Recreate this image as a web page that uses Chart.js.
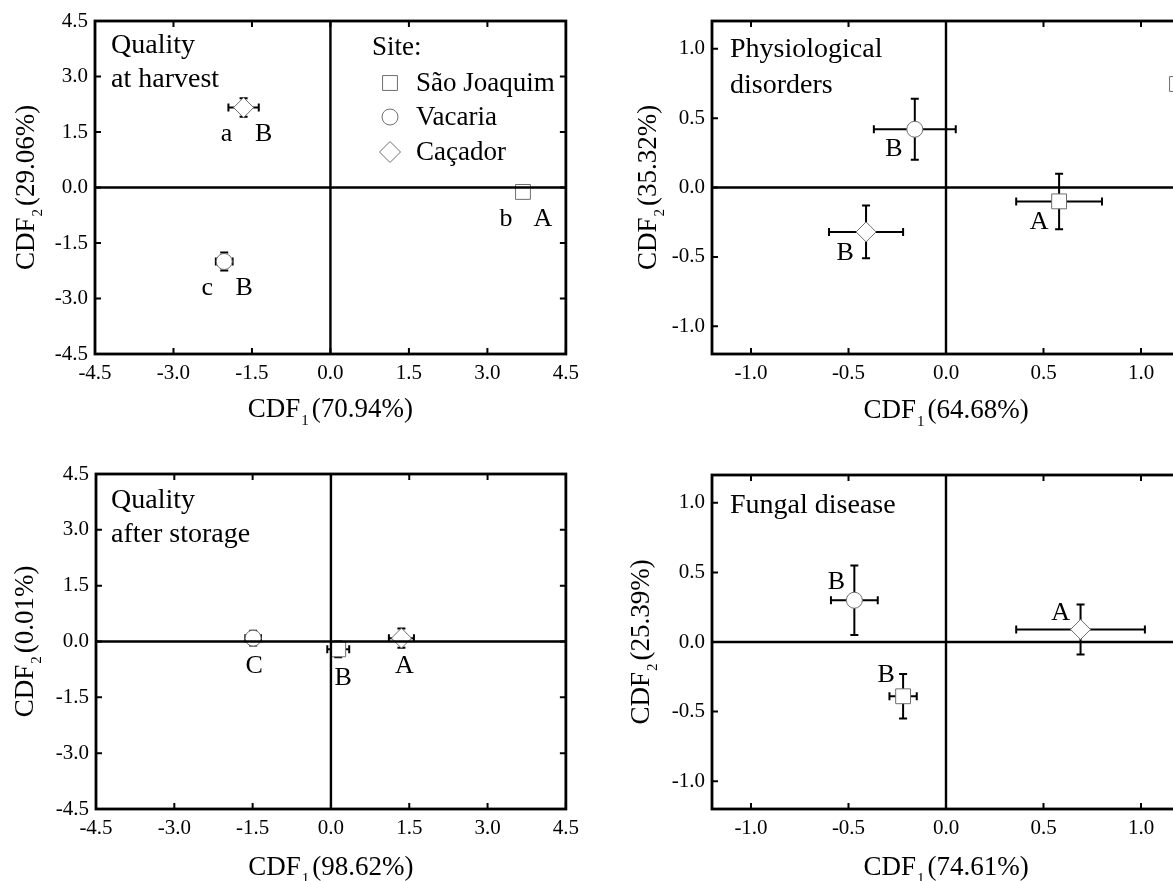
<!DOCTYPE html>
<html>
<head>
<meta charset="utf-8">
<script src="https://cdn.jsdelivr.net/npm/chart.js@4.4.1/dist/chart.umd.min.js"></script>
<style>
  html, body { margin: 0; padding: 0; overflow: hidden; background: #fff; width: 1173px; height: 881px; }
  canvas { position: absolute; }
</style>
</head>
<body>
<canvas id="harvest" width="586" height="440" style="left:0;top:0"></canvas>
<canvas id="disorder" width="600" height="440" style="left:600px;top:0"></canvas>
<canvas id="storage" width="586" height="441" style="left:0;top:440px"></canvas>
<canvas id="fungal" width="600" height="441" style="left:600px;top:440px"></canvas>
<script>
// Sites (same order in every panel)
const sites = ['São Joaquim', 'Vacaria', 'Caçador'];

// Tick values
const wideTicks = [-4.5, -3, -1.5, 0, 1.5, 3, 4.5];
const narrowTicks = [-1, -0.5, 0, 0.5, 1];

// Quality at harvest
const harvestX = [3.68, -2.03, -1.66];
const harvestY = [-0.12, -2.00, 2.16];
const harvestXErr = [0.10, 0.16, 0.29];
const harvestYErr = [0.16, 0.24, 0.25];
const harvestLetters = [['b', 'A'], ['c', 'B'], ['a', 'B']];

// Physiological disorders
const disorderX = [0.58, -0.16, -0.41];
const disorderY = [-0.10, 0.42, -0.32];
const disorderXErr = [0.22, 0.21, 0.19];
const disorderYErr = [0.20, 0.22, 0.19];
const disorderLetters = [['A'], ['B'], ['B']];

// Quality after storage
const storageX = [0.14, -1.49, 1.35];
const storageY = [-0.21, 0.09, 0.09];
const storageXErr = [0.21, 0.15, 0.24];
const storageYErr = [0.21, 0.20, 0.26];
const storageLetters = [['B'], ['C'], ['A']];

// Fungal disease
const fungalX = [-0.22, -0.47, 0.69];
const fungalY = [-0.39, 0.30, 0.09];
const fungalXErr = [0.07, 0.12, 0.33];
const fungalYErr = [0.16, 0.25, 0.18];
const fungalLetters = [['B'], ['B'], ['A']];

// Styles
const FONT = '"Liberation Serif", "Times New Roman", serif';
const MARKER_EDGE = '#6e6e6e';
const pointStyles = ['rect', 'circle', 'rectRot'];
const pointSizes = [10.5, 8, 10];

const panels = {
  harvest: {
    xs: harvestX, ys: harvestY, xErr: harvestXErr, yErr: harvestYErr,
    letters: harvestLetters,
    letterPos: [[[-17, 27], [20, 27]], [[-17, 27], [20, 27]], [[-17, 27], [20, 27]]],
    ticks: wideTicks, lim: 4.5,
    pad: { top: 21, right: 20 }, yWidth: 95, xHeight: 86,
    title: ['Quality', 'at harvest'], titlePos: [16, 32], titleGap: 34,
    xPct: '(70.94%)', yPct: '(29.06%)', xTitleDy: 63, yTitleDx: -61,
    legend: { dx: 277, dy: 34, markerDx: 295, textDx: 321, rowDy: [62, 96, 131] }
  },
  disorder: {
    xs: disorderX, ys: disorderY, xErr: disorderXErr, yErr: disorderYErr,
    letters: disorderLetters,
    letterPos: [[[-20, 21]], [[-21, 20]], [[-21, 21]]],
    ticks: narrowTicks, lim: 1.2,
    pad: { top: 21, right: 20 }, yWidth: 112, xHeight: 86,
    title: ['Physiological', 'disorders'], titlePos: [18, 36], titleGap: 36,
    xPct: '(64.68%)', yPct: '(35.32%)', xTitleDy: 64, yTitleDx: -56,
    stubMarker: [465, 63]
  },
  storage: {
    xs: storageX, ys: storageY, xErr: storageXErr, yErr: storageYErr,
    letters: storageLetters,
    letterPos: [[[5, 29]], [[1, 28]], [[3, 28]]],
    ticks: wideTicks, lim: 4.5,
    pad: { top: 34, right: 20 }, yWidth: 96, xHeight: 72,
    title: ['Quality', 'after storage'], titlePos: [15, 34], titleGap: 34,
    xPct: '(98.62%)', yPct: '(0.01%)', xTitleDy: 66, yTitleDx: -63
  },
  fungal: {
    xs: fungalX, ys: fungalY, xErr: fungalXErr, yErr: fungalYErr,
    letters: fungalLetters,
    letterPos: [[[-17, -21]], [[-18, -18]], [[-20, -16]]],
    ticks: narrowTicks, lim: 1.2,
    pad: { top: 35, right: 20 }, yWidth: 112, xHeight: 72,
    title: ['Fungal disease'], titlePos: [18, 38], titleGap: 36,
    xPct: '(74.61%)', yPct: '(25.39%)', xTitleDy: 66, yTitleDx: -63
  }
};

function drawMarker(ctx, style, r, x, y) {
  ctx.beginPath();
  if (style === 'rect') {
    const h = r * Math.SQRT1_2;
    ctx.rect(x - h, y - h, 2 * h, 2 * h);
  } else if (style === 'circle') {
    ctx.arc(x, y, r, 0, Math.PI * 2);
  } else {
    ctx.moveTo(x - r, y); ctx.lineTo(x, y - r); ctx.lineTo(x + r, y); ctx.lineTo(x, y + r); ctx.closePath();
  }
  ctx.fillStyle = '#fff';
  ctx.fill();
  ctx.lineWidth = 1;
  ctx.strokeStyle = MARKER_EDGE;
  ctx.stroke();
}

// "CDF" + subscript + percentage, centred on (0, 0) along the baseline
function drawCdfTitle(ctx, sub, pct) {
  ctx.textBaseline = 'alphabetic';
  ctx.textAlign = 'left';
  const big = '27px ' + FONT, small = '15px ' + FONT;
  ctx.font = big;
  const w1 = ctx.measureText('CDF').width;
  const w3 = ctx.measureText(pct).width;
  ctx.font = small;
  const w2 = ctx.measureText(sub).width + 4;
  let x = -(w1 + w2 + w3) / 2;
  ctx.fillStyle = '#000';
  ctx.font = big;
  ctx.fillText('CDF', x, 0);
  ctx.font = small;
  ctx.fillText(sub, x + w1 + 1, 8);
  ctx.font = big;
  ctx.fillText(pct, x + w1 + w2, 0);
}

const panelPlugin = {
  id: 'panel',
  beforeDatasetsDraw(chart) {
    const p = panels[chart.canvas.id];
    const ctx = chart.ctx, sx = chart.scales.x, sy = chart.scales.y;
    ctx.save();
    ctx.strokeStyle = '#000';
    ctx.lineWidth = 2;
    const cap = 4;
    p.xs.forEach((v, i) => {
      const px = sx.getPixelForValue(v), py = sy.getPixelForValue(p.ys[i]);
      const x0 = sx.getPixelForValue(v - p.xErr[i]), x1 = sx.getPixelForValue(v + p.xErr[i]);
      const y0 = sy.getPixelForValue(p.ys[i] - p.yErr[i]), y1 = sy.getPixelForValue(p.ys[i] + p.yErr[i]);
      ctx.beginPath();
      ctx.moveTo(x0, py); ctx.lineTo(x1, py);
      ctx.moveTo(x0, py - cap); ctx.lineTo(x0, py + cap);
      ctx.moveTo(x1, py - cap); ctx.lineTo(x1, py + cap);
      ctx.moveTo(px, y0); ctx.lineTo(px, y1);
      ctx.moveTo(px - cap, y0); ctx.lineTo(px + cap, y0);
      ctx.moveTo(px - cap, y1); ctx.lineTo(px + cap, y1);
      ctx.stroke();
    });
    ctx.restore();
  },
  afterDatasetsDraw(chart) {
    const p = panels[chart.canvas.id];
    const ctx = chart.ctx, sx = chart.scales.x, sy = chart.scales.y;
    const a = chart.chartArea;
    ctx.save();

    // zero lines
    ctx.strokeStyle = '#000';
    ctx.lineWidth = 2.4;
    const zx = sx.getPixelForValue(0), zy = sy.getPixelForValue(0);
    ctx.beginPath();
    ctx.moveTo(zx, a.top); ctx.lineTo(zx, a.bottom);
    ctx.moveTo(a.left, zy); ctx.lineTo(a.right, zy);
    ctx.stroke();

    // inward ticks on all four sides
    const tl = 6;
    ctx.lineWidth = 2;
    ctx.beginPath();
    p.ticks.forEach(v => {
      const tx = sx.getPixelForValue(v), ty = sy.getPixelForValue(v);
      ctx.moveTo(tx, a.bottom); ctx.lineTo(tx, a.bottom - tl);
      ctx.moveTo(tx, a.top); ctx.lineTo(tx, a.top + tl);
      ctx.moveTo(a.left, ty); ctx.lineTo(a.left + tl, ty);
      ctx.moveTo(a.right, ty); ctx.lineTo(a.right - tl, ty);
    });
    ctx.stroke();

    // frame
    ctx.lineWidth = 2.8;
    ctx.strokeRect(a.left, a.top, a.right - a.left, a.bottom - a.top);

    // significance letters
    ctx.fillStyle = '#000';
    ctx.font = '26px ' + FONT;
    ctx.textAlign = 'center';
    ctx.textBaseline = 'middle';
    p.letters.forEach((ls, i) => {
      const pt = chart.getDatasetMeta(i).data[0];
      ls.forEach((t, j) => {
        const off = p.letterPos[i][j];
        ctx.fillText(t, pt.x + off[0], pt.y + off[1]);
      });
    });

    // panel title
    ctx.font = '28px ' + FONT;
    ctx.textAlign = 'left';
    ctx.textBaseline = 'alphabetic';
    p.title.forEach((t, j) => {
      ctx.fillText(t, a.left + p.titlePos[0], a.top + p.titlePos[1] + j * p.titleGap);
    });

    // legend
    if (p.legend) {
      const lg = p.legend;
      ctx.font = '27px ' + FONT;
      ctx.fillStyle = '#000';
      ctx.fillText('Site:', a.left + lg.dx, a.top + lg.dy);
      sites.forEach((s, i) => {
        const cy = a.top + lg.rowDy[i];
        drawMarker(ctx, pointStyles[i], i === 1 ? 8 : 10.5, a.left + lg.markerDx, cy);
        ctx.fillStyle = '#000';
        ctx.textBaseline = 'middle';
        ctx.fillText(s, a.left + lg.textDx, cy + 1);
        ctx.textBaseline = 'alphabetic';
      });
    }
    if (p.stubMarker) {
      drawMarker(ctx, 'rect', 10.5, a.left + p.stubMarker[0], a.top + p.stubMarker[1]);
    }

    // axis titles
    ctx.save();
    ctx.translate((a.left + a.right) / 2, a.bottom + p.xTitleDy);
    drawCdfTitle(ctx, '1', p.xPct);
    ctx.restore();
    ctx.save();
    ctx.translate(a.left + p.yTitleDx, (a.top + a.bottom) / 2);
    ctx.rotate(-Math.PI / 2);
    drawCdfTitle(ctx, '2', p.yPct);
    ctx.restore();

    ctx.restore();
  }
};

function makeAxis(tickVals, lim, isY, size) {
  return {
    type: 'linear',
    min: -lim,
    max: lim,
    grid: { display: false, drawTicks: false },
    border: { display: false },
    afterBuildTicks: (scale) => { scale.ticks = tickVals.map(v => ({ value: v })); },
    afterFit: (scale) => { if (isY) scale.width = size; else scale.height = size; },
    ticks: {
      font: { family: FONT, size: 21 },
      color: '#000',
      padding: isY ? 7 : 7,
      autoSkip: false,
      maxRotation: 0,
      callback: (v) => Number(v).toFixed(1)
    }
  };
}

function makeChart(id) {
  const p = panels[id];
  return new Chart(document.getElementById(id), {
    type: 'scatter',
    data: {
      datasets: sites.map((s, i) => ({
        label: s,
        data: [{ x: p.xs[i], y: p.ys[i] }],
        pointStyle: pointStyles[i],
        pointRadius: pointSizes[i],
        pointHoverRadius: pointSizes[i],
        pointBackgroundColor: '#fff',
        pointBorderColor: MARKER_EDGE,
        pointBorderWidth: 1
      }))
    },
    options: {
      responsive: false,
      animation: false,
      devicePixelRatio: 1,
      layout: { padding: { top: p.pad.top, right: p.pad.right, left: 0, bottom: 0 } },
      plugins: { legend: { display: false }, tooltip: { enabled: false } },
      scales: {
        x: makeAxis(p.ticks, p.lim, false, p.xHeight),
        y: makeAxis(p.ticks, p.lim, true, p.yWidth)
      }
    },
    plugins: [panelPlugin]
  });
}

window.onload = () => {
  ['harvest', 'disorder', 'storage', 'fungal'].forEach(makeChart);
};
</script>
</body>
</html>
